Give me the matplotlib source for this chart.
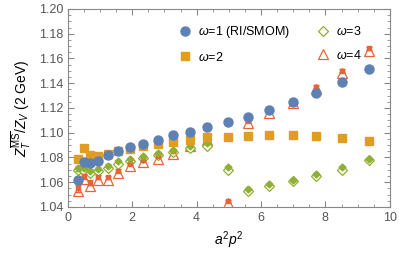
import matplotlib.pyplot as plt
from matplotlib.ticker import MultipleLocator

plt.rcParams['font.family'] = ['Liberation Sans', 'DejaVu Sans']
plt.rcParams['mathtext.fontset'] = 'custom'
plt.rcParams['mathtext.rm'] = 'Liberation Sans'
plt.rcParams['mathtext.it'] = 'Liberation Sans:italic'

# a^2 p^2 values
a2p2 = [0.31, 0.50, 0.70, 0.94, 1.25, 1.57, 1.94, 2.34, 2.79, 3.27, 3.79,
        4.33, 4.97, 5.60, 6.25, 6.99, 7.72, 8.53, 9.36]

# omega=1 (RI/SMOM)
w1 = [1.0615, 1.0761, 1.0758, 1.0769, 1.0823, 1.0850, 1.0882, 1.0912, 1.0939,
      1.0979, 1.1006, 1.1044, 1.1084, 1.1130, 1.1184, 1.1246, 1.1319, 1.1408, 1.1513]
# omega=2
w2 = [1.0790, 1.0877, 1.0823, 1.0815, 1.0831, 1.0850, 1.0869, 1.0895, 1.0909,
      1.0925, 1.0939, 1.0968, 1.0966, 1.0975, 1.0980, 1.0980, 1.0976, 1.0960, 1.0933]
# omega=3 (filled / open)
w3 = [1.0714, 1.0712, 1.0693, 1.0710, 1.0734, 1.0769, 1.0790, 1.0810, 1.0836,
      1.0858, 1.0890, 1.0915, 1.0721, 1.0545, 1.0586, 1.0621, 1.0667, 1.0721, 1.0790]
w3_open = [1.0695, 1.0690, 1.0675, 1.0692, 1.0716, 1.0750, 1.0772, 1.0792, 1.0818,
           1.0840, 1.0874, 1.0893, 1.0700, 1.0527, 1.0567, 1.0608, 1.0648, 1.0702, 1.0777]
w3_err = [0.0020, 0.0015, 0.0010, 0.0010, 0.0010, 0.0008, 0.0008, 0.0008, 0.0008,
          0.0008, 0.0008, 0.0008, 0.0008, 0.0008, 0.0008, 0.0008, 0.0008, 0.0008, 0.0008]
# omega=4 (filled / open)
w4 = [1.0550, 1.0648, 1.0594, 1.0640, 1.0640, 1.0693, 1.0747, 1.0782, 1.0810,
      1.0850, 1.0910, 1.0955, 1.0448, 1.1095, 1.1184, 1.1257, 1.1372, 1.1502, 1.1682]
w4_open = [1.0530, 1.0629, 1.0567, 1.0621, 1.0621, 1.0675, 1.0729, 1.0764, 1.0788,
           1.0831, 1.0890, 1.0941, 1.0428, 1.1080, 1.1157, 1.1238, 1.1351, 1.1480, 1.1660]
w4_err = [0.0030, 0.0020, 0.0020, 0.0015, 0.0012, 0.0010, 0.0010, 0.0010, 0.0010,
          0.0010, 0.0010, 0.0010, 0.0010, 0.0010, 0.0010, 0.0010, 0.0010, 0.0010, 0.0010]

blue = '#5E81B5'
orange = '#E19C24'
green = '#8FB032'
red = '#EB6235'

fig = plt.figure(figsize=(3.99, 2.57), dpi=100)
ax = fig.add_axes([0.170, 0.195, 0.807, 0.770])

# open markers (drawn below)
ax.plot(a2p2, w4_open, ls='none', marker='^', ms=6.5, mfc='white', mec=red,
        mew=0.9, zorder=2)
ax.plot(a2p2, w3_open, ls='none', marker='D', ms=5.5, mfc='white', mec=green,
        mew=0.9, zorder=2)

# filled markers
ax.errorbar(a2p2, w4, yerr=w4_err, ls='none', marker='s', ms=3.5, color=red,
            capsize=2, elinewidth=1, zorder=3)
ax.errorbar(a2p2, w3, yerr=w3_err, ls='none', marker='D', ms=3.5, color=green,
            capsize=2, elinewidth=1, zorder=3)
ax.plot(a2p2, w2, ls='none', marker='s', ms=6, color=orange, zorder=4)
ax.plot(a2p2, w1, ls='none', marker='o', ms=6.5, color=blue, zorder=5)

# legend handles
h1, = ax.plot([], [], ls='none', marker='o', ms=6.5, color=blue)
h2, = ax.plot([], [], ls='none', marker='s', ms=6, color=orange)
h3, = ax.plot([], [], ls='none', marker='D', ms=5.5, mfc='white', mec=green, mew=0.9)
h4, = ax.plot([], [], ls='none', marker='^', ms=7, mfc='white', mec=red, mew=0.9)
ax.legend([h1, h2, h3, h4],
          [r'$\omega$=1 (RI/SMOM)', r'$\omega$=2', r'$\omega$=3', r'$\omega$=4'],
          ncol=2, loc='upper left', bbox_to_anchor=(0.31, 0.98), frameon=False,
          fontsize=9, handletextpad=0.5, columnspacing=2.2, labelspacing=0.85,
          handlelength=1.0)

ax.set_xlim(0, 10)
ax.set_ylim(1.04, 1.20)
ax.xaxis.set_major_locator(MultipleLocator(2))
ax.xaxis.set_minor_locator(MultipleLocator(0.5))
ax.yaxis.set_major_locator(MultipleLocator(0.02))
ax.yaxis.set_minor_locator(MultipleLocator(0.005))
ax.yaxis.set_major_formatter(plt.FormatStrFormatter('%.2f'))

gray = '#888888'
for s in ax.spines.values():
    s.set_color(gray)
ax.tick_params(which='both', direction='in', top=True, right=True, color=gray,
               labelcolor='#555555', labelsize=9)
ax.tick_params(which='major', length=4)
ax.tick_params(which='minor', length=2)

ax.set_xlabel(r'$a^2p^2$', fontsize=10)
ax.set_ylabel(r'$Z_T^{\overline{\mathrm{MS}}}/Z_V$ (2 GeV)', fontsize=10)

fig.savefig('out.png', dpi=100)
